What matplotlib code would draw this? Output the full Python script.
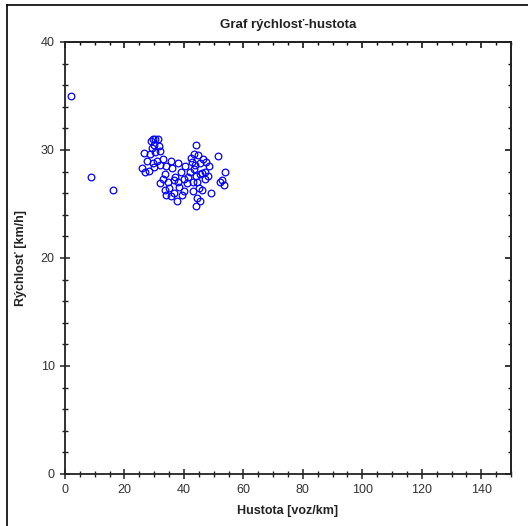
import matplotlib
matplotlib.use("Agg")
import matplotlib.pyplot as plt
from matplotlib.lines import Line2D
from matplotlib.ticker import MultipleLocator

plt.rcParams['font.family'] = ['Liberation Sans', 'DejaVu Sans']

title = "Graf rýchlosť-hustota"
xlabel = "Hustota [voz/km]"
ylabel = "Rýchlosť [km/h]"

density = [2.0, 8.6, 16.3,
           29.5, 31.2, 30.0, 29.2, 31.5, 30.4, 32.0, 28.5, 26.5, 27.5, 29.5, 30.8,
           25.8, 26.8, 28.2, 29.8, 31.8, 33.0, 29.0, 30.2,
           33.5, 34.0, 35.5, 36.0, 37.0, 34.5, 32.8, 35.0, 36.5, 31.8, 33.5, 38.0,
           39.0, 40.0, 38.5, 37.5, 39.5, 41.0, 40.5, 42.0, 41.5, 43.0, 42.5, 43.5,
           44.0, 43.0, 35.5, 34.0, 36.5, 38.0, 40.0,
           44.0, 43.5, 44.8, 45.5, 46.5, 47.5, 48.5, 47.0, 45.5, 44.5, 45.0, 46.0,
           44.5, 44.0, 45.5, 47.0, 48.0, 49.0, 51.5, 53.8, 52.0, 53.5, 52.8, 46.0,
           43.8, 42.8]
speed = [35.0, 27.5, 26.3,
         31.0, 31.0, 30.5, 30.2, 30.4, 29.8, 29.9, 29.6, 29.7, 29.0, 28.8, 29.0,
         28.3, 28.0, 28.1, 28.4, 28.6, 29.2, 30.8, 31.0,
         27.8, 28.5, 29.0, 28.3, 27.5, 27.0, 27.3, 26.5, 26.0, 26.9, 26.3, 28.8,
         28.0, 27.3, 26.6, 25.3, 25.8, 26.9, 28.5, 28.0, 27.5, 27.0, 29.3, 28.2,
         27.6, 26.2, 25.7, 25.8, 27.2, 27.0, 26.2,
         30.5, 29.6, 29.5, 28.8, 29.2, 28.9, 28.5, 28.0, 27.8, 27.0, 26.5, 26.3,
         25.6, 24.8, 25.3, 27.3, 27.6, 26.0, 29.4, 28.0, 27.0, 26.8, 27.2, 27.9,
         28.6, 28.9]

x_limits = (0, 150)
y_limits = (0, 40)

fig = plt.figure(figsize=(5.28, 5.26), dpi=100)
ax = fig.add_axes([65/528, 1-474/526, (511-65)/528, (474-42)/526])

ax.plot(density, speed, linestyle='none', marker='o', markersize=4.8,
        markerfacecolor='none', markeredgecolor='#0000ff', markeredgewidth=0.9,
        clip_on=False)

ax.set_xlim(*x_limits)
ax.set_ylim(*y_limits)
ax.xaxis.set_major_locator(MultipleLocator(20))
ax.xaxis.set_minor_locator(MultipleLocator(5))
ax.yaxis.set_major_locator(MultipleLocator(10))
ax.yaxis.set_minor_locator(MultipleLocator(2))

for s in ax.spines.values():
    s.set_linewidth(1.3)
    s.set_color('#222222')

ax.tick_params(which='major', direction='inout', length=7, width=1.1,
               labelsize=9, pad=4, colors='#222222', labelcolor='#333333')
ax.tick_params(which='minor', direction='inout', length=4, width=1.0, colors='#222222')

secx = ax.secondary_xaxis('top')
secx.xaxis.set_major_locator(MultipleLocator(20))
secx.xaxis.set_minor_locator(MultipleLocator(5))
secx.tick_params(which='major', direction='in', length=4, width=1.1, labeltop=False)
secx.tick_params(which='minor', direction='in', length=2.5, width=1.0)
secy = ax.secondary_yaxis('right')
secy.yaxis.set_major_locator(MultipleLocator(10))
secy.yaxis.set_minor_locator(MultipleLocator(2))
secy.tick_params(which='major', direction='in', length=4, width=1.1, labelright=False)
secy.tick_params(which='minor', direction='in', length=2.5, width=1.0)
for sa in (secx, secy):
    for s in sa.spines.values():
        s.set_linewidth(1.3)
        s.set_color('#222222')

ax.set_title(title, fontsize=9.5, fontweight='bold', pad=10, color='#222222')
ax.set_xlabel(xlabel, fontsize=9, fontweight='bold', labelpad=6, color='#222222')
ax.set_ylabel(ylabel, fontsize=9, fontweight='bold', labelpad=10, color='#222222')

# figure frame (top and left edges)
fig.add_artist(Line2D([7/528, 7/528], [0, 1-5/526], transform=fig.transFigure,
                      color='black', linewidth=1.2))
fig.add_artist(Line2D([7/528, 1], [1-5/526, 1-5/526], transform=fig.transFigure,
                      color='black', linewidth=1.2))

fig.savefig("out.png", dpi=100, facecolor='white')
